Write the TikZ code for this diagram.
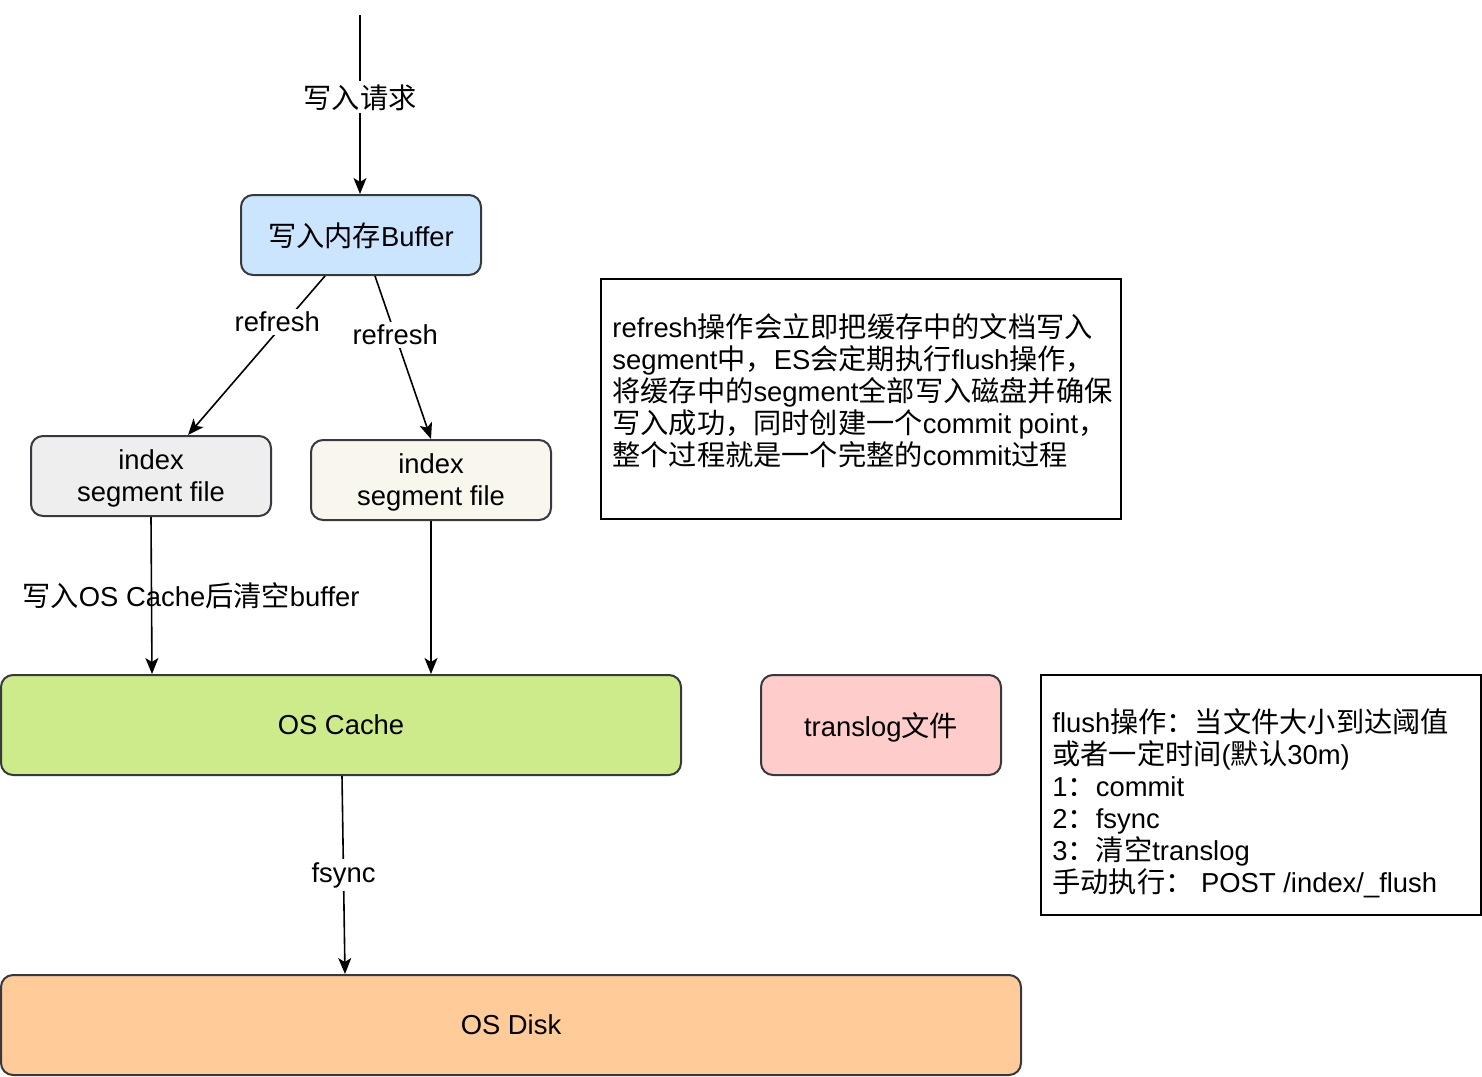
\documentclass[tikz,border=0pt]{standalone}
\usepackage{fontspec}
\setmainfont{Liberation Sans}
\newfontfamily\cjk[Scale=1.03]{Noto Sans CJK SC}
\usepackage{xcolor}
\usetikzlibrary{arrows.meta, positioning}

\newcommand{\zh}[1]{{\cjk #1}}

\definecolor{bufblue}{HTML}{CCE5FF}
\definecolor{seggray}{HTML}{EEEEEE}
\definecolor{segcream}{HTML}{F9F7ED}
\definecolor{cachegreen}{HTML}{CDEB8B}
\definecolor{transpink}{HTML}{FFCCCC}
\definecolor{diskorange}{HTML}{FFCC99}
\definecolor{edgegray}{HTML}{36393D}

\begin{document}
\begin{tikzpicture}[
  x=0.5pt, y=-0.5pt,
  every node/.style={font=\fontsize{13.7pt}{16pt}\selectfont},
  box/.style={draw=edgegray, line width=1pt, rounded corners=6pt, text depth=0pt,
              minimum width=120pt, minimum height=40pt, align=center, inner sep=0pt},
  wide/.style={box, minimum height=50pt},
  note/.style={draw=black, line width=1pt, fill=white, inner sep=0pt},
  lbl/.style={fill=white, inner sep=1.5pt},
  arr/.style={-{Stealth[length=8pt, width=6.5pt, inset=2pt]}, line width=0.8pt}
]
\useasboundingbox (0,0) rectangle (1482,1076);

\coordinate (req) at (360,15);
\node[box, fill=bufblue] (buf) at (361,235) {\zh{写入内存}Buffer};
\node[box, fill=seggray] (seg1) at (151,476) {index\\segment file};
\node[box, fill=segcream] (seg2) at (431,480) {index\\segment file};
\node[wide, fill=cachegreen, minimum width=340pt] (cache) at (341,725) {OS Cache};
\node[wide, fill=transpink] (trans) at (881,725) {translog\zh{文件}};
\node[wide, fill=diskorange, minimum width=510pt] (disk) at (511,1025) {OS Disk};

% notes
\node[note, minimum width=260pt, minimum height=120pt] (refnote) at (861,399) {};
\node[anchor=west, align=left, inner sep=0pt] (reftext) at (612,391)
  {refresh\zh{操作会立即把缓存中的文档写入}\\
   segment\zh{中，}ES\zh{会定期执行}flush\zh{操作，}\\
   \zh{将缓存中的}segment\zh{全部写入磁盘并确保}\\
   \zh{写入成功，同时创建一个}commit point\zh{，}\\
   \zh{整个过程就是一个完整的}commit\zh{过程}};
\node[note, minimum width=220pt, minimum height=120pt] (flushnote) at (1261,795) {};
\node[anchor=west, align=left, inner sep=0pt] (flushtext) at (1052,803)
  {flush\zh{操作：当文件大小到达阈值}\\
   \zh{或者一定时间}(\zh{默认}30m)\\
   1\zh{：}commit\\
   2\zh{：}fsync\\
   3\zh{：清空}translog\\
   \zh{手动执行：} POST /index/\_flush};

% connectors
\draw[arr] (req) -- node[lbl, pos=0.46] {\zh{写入请求}} ([xshift=-0.5pt]buf.north);
\draw[arr] ([xshift=-18pt]buf.south) -- node[lbl, pos=0.29, xshift=-4pt] {refresh} ([xshift=18.5pt]seg1.north);
\draw[arr] ([xshift=7pt]buf.south) -- node[lbl, pos=0.36] {refresh} (seg2.north);
\draw[arr] (seg1.south) -- ([xshift=-94.5pt]cache.north);
\draw[arr] (seg2.south) -- ([xshift=45pt]cache.north);
\draw[arr] ([xshift=0.5pt]cache.south) -- node[lbl, pos=0.5] {fsync} ([xshift=-83pt]disk.north);
\node (clearbuf) at (191,596) {\zh{写入}OS Cache\zh{后清空}buffer};
\end{tikzpicture}
\end{document}
